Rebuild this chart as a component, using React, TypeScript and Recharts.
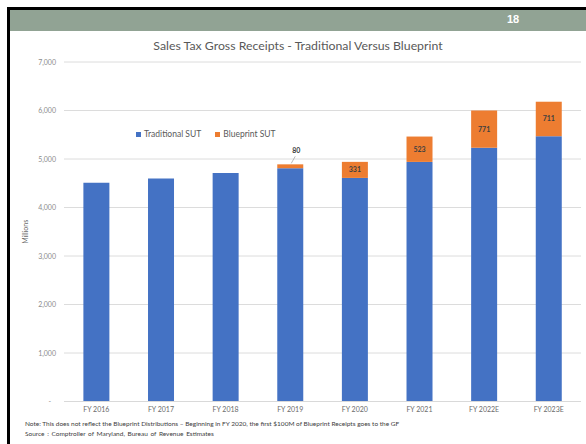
import React from 'react';
import { BarChart, Bar, XAxis, YAxis, CartesianGrid, Legend, LabelList } from 'recharts';

const years = ['FY 2016', 'FY 2017', 'FY 2018', 'FY 2019', 'FY 2020', 'FY 2021', 'FY 2022E', 'FY 2023E'];
const traditionalSut = [4510, 4600, 4710, 4810, 4610, 4940, 5230, 5470];
const blueprintSut: (number | null)[] = [null, null, null, 80, 331, 523, 771, 711];
const yTicks = [0, 1000, 2000, 3000, 4000, 5000, 6000, 7000];

const BLUE = '#4472C4';
const ORANGE = '#ED7D31';
const FONT = 'Lato, "Open Sans", sans-serif';

const data = years.map((year, i) => ({
  year,
  traditional: traditionalSut[i],
  blueprint: blueprintSut[i],
}));

const YTick = (props: any) => {
  const { x, y, payload } = props;
  const v = payload.value as number;
  return (
    <text x={v === 0 ? x - 5 : x} y={y} dy={2.5} textAnchor="end" fontSize={7} fill="#8c8c8c">
      {v === 0 ? '-' : v.toLocaleString('en-US')}
    </text>
  );
};

const BlueprintLabel = (props: any) => {
  const { x, y, width, height, value } = props;
  if (value == null) return null;
  const cx = x + width / 2;
  if (height < 12) {
    // small segment: label sits above with a short leader line
    return (
      <g>
        <line x1={cx + 1} y1={y - 1} x2={cx + 5} y2={y - 8} stroke="#a6a6a6" strokeWidth={0.8} />
        <text x={cx + 6} y={y - 11} textAnchor="middle" fontSize={7} fontWeight={700} fill="#404040">
          {value}
        </text>
      </g>
    );
  }
  return (
    <text x={cx} y={y + height / 2} dy={2.5} textAnchor="middle" fontSize={7} fontWeight={700} fill="#404040">
      {value}
    </text>
  );
};

const LegendContent = () => (
  <div style={{ display: 'flex', gap: 14, fontSize: 8.5, color: '#595959', fontFamily: FONT, whiteSpace: 'nowrap' }}>
    <span style={{ display: 'flex', alignItems: 'center', gap: 3 }}>
      <span style={{ width: 5, height: 5, background: BLUE, display: 'inline-block' }} />
      Traditional SUT
    </span>
    <span style={{ display: 'flex', alignItems: 'center', gap: 3 }}>
      <span style={{ width: 5, height: 5, background: ORANGE, display: 'inline-block' }} />
      Blueprint SUT
    </span>
  </div>
);

export default function App() {
  return (
    <div style={{ position: 'absolute', left: 0, top: 0, width: 586, height: 444, background: '#fff', fontFamily: FONT, overflow: 'hidden' }}>
      <div style={{ position: 'absolute', left: 7, top: 7, width: 579, height: 3, background: '#000' }} />
      <div style={{ position: 'absolute', left: 7, top: 7, width: 3, height: 437, background: '#000' }} />
      <div style={{ position: 'absolute', left: 10, top: 10, width: 576, height: 21, background: '#91A394' }} />
      <div style={{ position: 'absolute', left: 500, top: 13, width: 26, textAlign: 'center', color: '#fff', fontWeight: 700, fontSize: 11, fontFamily: '"Liberation Sans", Arial, sans-serif' }}>
        18
      </div>
      <div style={{ position: 'absolute', left: 10, top: 38, width: 576, textAlign: 'center', fontSize: 12.3, color: '#595959' }}>
        Sales Tax Gross Receipts - Traditional Versus Blueprint
      </div>

      <div style={{ position: 'absolute', left: 0, top: 0 }}>
        <BarChart width={586} height={444} data={data} margin={{ top: 62, right: 5, bottom: 0, left: 0 }} barCategoryGap="30%">
          <CartesianGrid vertical={false} stroke="#dcdcdc" />
          <XAxis
            dataKey="year"
            height={42.5}
            tickLine={false}
            tickMargin={0}
            axisLine={{ stroke: '#d9d9d9' }}
            tick={{ fontSize: 7, fill: '#6b6b6b' }}
            interval={0}
          />
          <YAxis
            width={64}
            domain={[0, 7000]}
            ticks={yTicks}
            axisLine={false}
            tickLine={false}
            tick={<YTick />}
            label={{ value: 'Millions', angle: -90, position: 'center', dx: -6, fontSize: 7, fill: '#6b6b6b' }}
          />
          <Legend verticalAlign="middle" content={<LegendContent />} wrapperStyle={{ top: 129, left: 136, width: 200, height: 12 }} />
          <Bar dataKey="traditional" name="Traditional SUT" stackId="a" fill={BLUE} isAnimationActive={false} />
          <Bar dataKey="blueprint" name="Blueprint SUT" stackId="a" fill={ORANGE} isAnimationActive={false}>
            <LabelList dataKey="blueprint" content={<BlueprintLabel />} />
          </Bar>
        </BarChart>
      </div>

      <div style={{ position: 'absolute', left: 25, top: 420, fontSize: 6.5, color: '#404040', whiteSpace: 'nowrap' }}>
        Note: This does not reflect the Blueprint Distributions – Beginning in FY 2020, the first $100M of Blueprint Receipts goes to the GF
      </div>
      <div style={{ position: 'absolute', left: 25, top: 430, fontSize: 6.5, color: '#404040', whiteSpace: 'nowrap', wordSpacing: 1 }}>
        Source : Comptroller of Maryland, Bureau of Revenue Estimates
      </div>
    </div>
  );
}
